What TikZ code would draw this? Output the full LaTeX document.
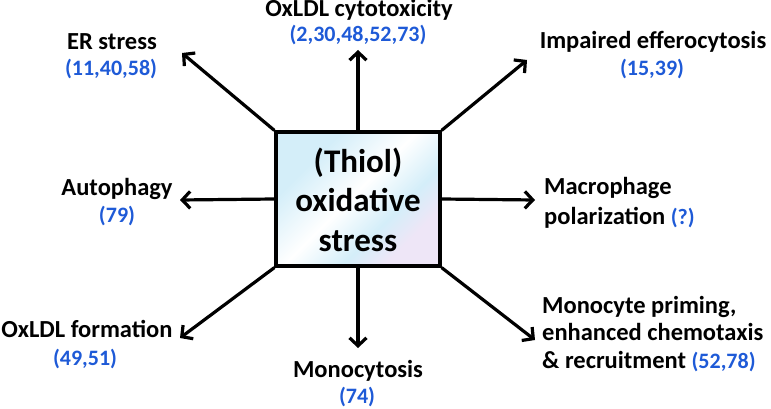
\documentclass[tikz,border=0pt]{standalone}
\usepackage{fontspec}
\setmainfont{Carlito}
\usetikzlibrary{arrows.meta}
\definecolor{refblue}{RGB}{30,90,215}
\definecolor{shA}{RGB}{212,238,249}
\definecolor{shB}{RGB}{238,230,247}
\pgfdeclarehorizontalshading{boxshade}{100bp}{color(0bp)=(shA); color(30bp)=(shA); color(48bp)=(white); color(62bp)=(shA); color(72bp)=(shB); color(100bp)=(shB)}
\begin{document}
\begin{tikzpicture}[x=1pt,y=-1pt,
  lbl/.style={font=\fontsize{24.5}{27}\selectfont\bfseries, inner sep=0pt},
  ref/.style={font=\fontsize{22}{26}\selectfont\bfseries, text=refblue, inner sep=0pt},
  ctr/.style={font=\fontsize{33}{40}\selectfont\bfseries, inner sep=0pt},
  arr/.style={line width=3.2pt, -{Straight Barb[length=8pt,width=17pt]}},
  boxst/.style={draw, line width=3.2pt, minimum width=164pt, minimum height=134pt, inner sep=0pt, shading=boxshade, shading angle=-45}
  ]
\useasboundingbox (0,0) rectangle (771,409);
\node[boxst] (box) at (358,199) {};
\node[ctr, anchor=base] (t1) at (358,172) {(Thiol)};
\node[ctr, anchor=base] (t2) at (358,211) {oxidative};
\node[ctr, anchor=base] (t3) at (358,251) {stress};

% labels
\node[lbl, anchor=base] (er) at (112,50) {ER stress};
\node[ref, anchor=base] (erref) at (111,76) {(11,40,58)};
\node[lbl, anchor=base] (cyto) at (359,17) {OxLDL cytotoxicity};
\node[ref, anchor=base] (cytoref) at (358,42) {(2,30,48,52,73)};
\node[lbl, anchor=base] (eff) at (653,49) {Impaired efferocytosis};
\node[ref, anchor=base] (effref) at (652,76) {(15,39)};
\node[lbl, anchor=base] (auto) at (117,195) {Autophagy};
\node[ref, anchor=base] (autoref) at (117,222) {(79)};
\node[lbl, anchor=base west] (mac1) at (544,194) {Macrophage};
\node[lbl, anchor=base west] (mac2) at (544,224) {polarization \textcolor{refblue}{\fontsize{22}{26}\selectfont(?)}};
\node[lbl, anchor=base] (form) at (87,337) {OxLDL formation};
\node[ref, anchor=base] (formref) at (85,365) {(49,51)};
\node[lbl, anchor=base] (mono) at (358,377) {Monocytosis};
\node[ref, anchor=base] (monoref) at (357,403) {(74)};
\node[lbl, anchor=base west] (pr1) at (542,313) {Monocyte priming,};
\node[lbl, anchor=base west] (pr2) at (542,340) {enhanced chemotaxis};
\node[lbl, anchor=base west] (pr3) at (542,368) {\&~recruitment \textcolor{refblue}{\fontsize{22}{26}\selectfont(52,78)}};

% arrow tips
\coordinate (erTip) at (182,53);
\coordinate (cytoTip) at (358,50);
\coordinate (effTip) at (527,60);
\coordinate (autoTip) at (180,200);
\coordinate (macTip) at (535,200);
\coordinate (formTip) at (180,338);
\coordinate (monoTip) at (358,348);
\coordinate (prTip) at (535,340);

\draw[arr] (box.north west) -- (erTip);
\draw[arr] (box.north) -- (cytoTip);
\draw[arr] (box.north east) -- (effTip);
\draw[arr] (box.west) -- (autoTip);
\draw[arr] (box.east) -- (macTip);
\draw[arr] (box.south west) -- (formTip);
\draw[arr] (box.south) -- (monoTip);
\draw[arr] (box.south east) -- (prTip);
\end{tikzpicture}
\end{document}
